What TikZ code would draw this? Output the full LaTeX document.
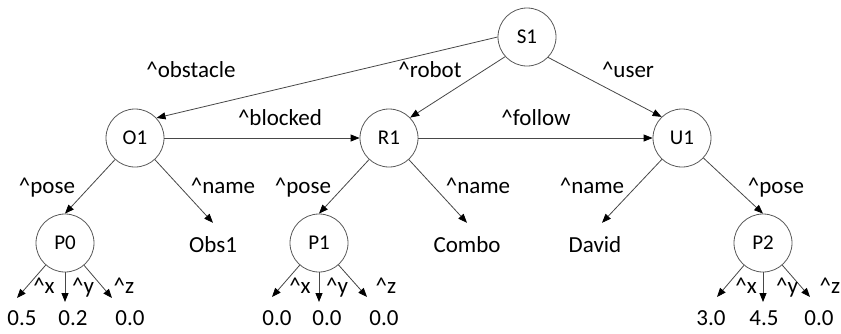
\documentclass[tikz,border=0pt]{standalone}
\usepackage{fontspec}
\setmainfont{Carlito}
\usetikzlibrary{arrows.meta}
\newcommand{\crt}{\textasciicircum}
\begin{document}
\begin{tikzpicture}[x=1pt,y=-1pt,
  state/.style={circle,draw=black!65,line width=0.8pt,minimum size=58pt,
    inner sep=0pt,font=\fontsize{21}{24}\selectfont},
  leaf/.style={inner xsep=0pt,inner ysep=13pt,text height=16pt,text depth=0pt,
    font=\fontsize{23}{26}\selectfont},
  lbl/.style={anchor=base,inner sep=0pt,font=\fontsize{23}{26}\selectfont},
  val/.style={anchor=base,inner sep=0pt,font=\fontsize{23}{26}\selectfont},
  edge/.style={draw=black!72,line width=0.8pt,
    -{Triangle[length=9pt,width=7pt,color=black,fill=black]}}
]
\useasboundingbox (0,0) rectangle (841,333);

% graph nodes
\node[state] (S1) at (527,37) {S1};
\node[state] (O1) at (135,138) {O1};
\node[state] (R1) at (389,138) {R1};
\node[state] (U1) at (682,138) {U1};
\node[state] (P0) at (65,243) {P0};
\node[state] (P1) at (319,243) {P1};
\node[state] (P2) at (763,243) {P2};

% string leaves
\node[leaf] (Obs1)  at (213,244) {Obs1};
\node[leaf] (Combo) at (467,244) {Combo};
\node[leaf] (David) at (595,244) {David};

% tips of the coordinate arrows
\coordinate (p0x) at (17,298);  \coordinate (p0y) at (65,302);  \coordinate (p0z) at (112,298);
\coordinate (p1x) at (272,297); \coordinate (p1y) at (319,302); \coordinate (p1z) at (367,297);
\coordinate (p2x) at (717,297); \coordinate (p2y) at (763,302); \coordinate (p2z) at (810,297);

% edges
\draw[edge] (S1.west) -- (O1.43);
\draw[edge] (S1.222) -- (R1.44);
\draw[edge] (S1.-44) -- (U1.134);
\draw[edge] (O1) -- (R1);
\draw[edge] (R1) -- (U1);
\draw[edge] (O1) -- (P0.north);
\draw[edge] (O1) -- (Obs1.north);
\draw[edge] (R1) -- (P1.north);
\draw[edge] (R1) -- (Combo.north);
\draw[edge] (U1) -- ([xshift=7pt]David.north);
\draw[edge] (U1) -- (P2.north);
\foreach \p in {0,1,2}{
  \draw[edge] (P\p) -- (p\p x);
  \draw[edge] (P\p) -- (p\p y);
  \draw[edge] (P\p) -- (p\p z);
}

% edge labels
\node[lbl] (lobst) at (191,77) {\crt obstacle};
\node[lbl] (lrob)  at (430,77) {\crt robot};
\node[lbl] (luser) at (628,77) {\crt user};
\node[lbl] (lblk)  at (280,125) {\crt blocked};
\node[lbl] (lfol)  at (536,125) {\crt follow};
\node[lbl] (lpo0)  at (47,193) {\crt pose};
\node[lbl] (lna0)  at (223,193) {\crt name};
\node[lbl] (lpo1)  at (303,193) {\crt pose};
\node[lbl] (lna1)  at (478,193) {\crt name};
\node[lbl] (lna2)  at (592,193) {\crt name};
\node[lbl] (lpo2)  at (776,193) {\crt pose};

\node[lbl] at (44,293) {\crt x};  \node[lbl] at (83,293) {\crt y};  \node[lbl] at (124,293) {\crt z};
\node[lbl] at (300,293) {\crt x}; \node[lbl] at (337,293) {\crt y}; \node[lbl] at (386,293) {\crt z};
\node[lbl] at (746,293) {\crt x}; \node[lbl] at (787,293) {\crt y}; \node[lbl] at (830,293) {\crt z};

% numeric values
\node[val] at (22,325) {0.5};  \node[val] at (73,325) {0.2};  \node[val] at (130,325) {0.0};
\node[val] at (277,325) {0.0}; \node[val] at (327,325) {0.0}; \node[val] at (384,325) {0.0};
\node[val] at (711,325) {3.0}; \node[val] at (764,325) {4.5}; \node[val] at (819,325) {0.0};
\end{tikzpicture}
\end{document}
